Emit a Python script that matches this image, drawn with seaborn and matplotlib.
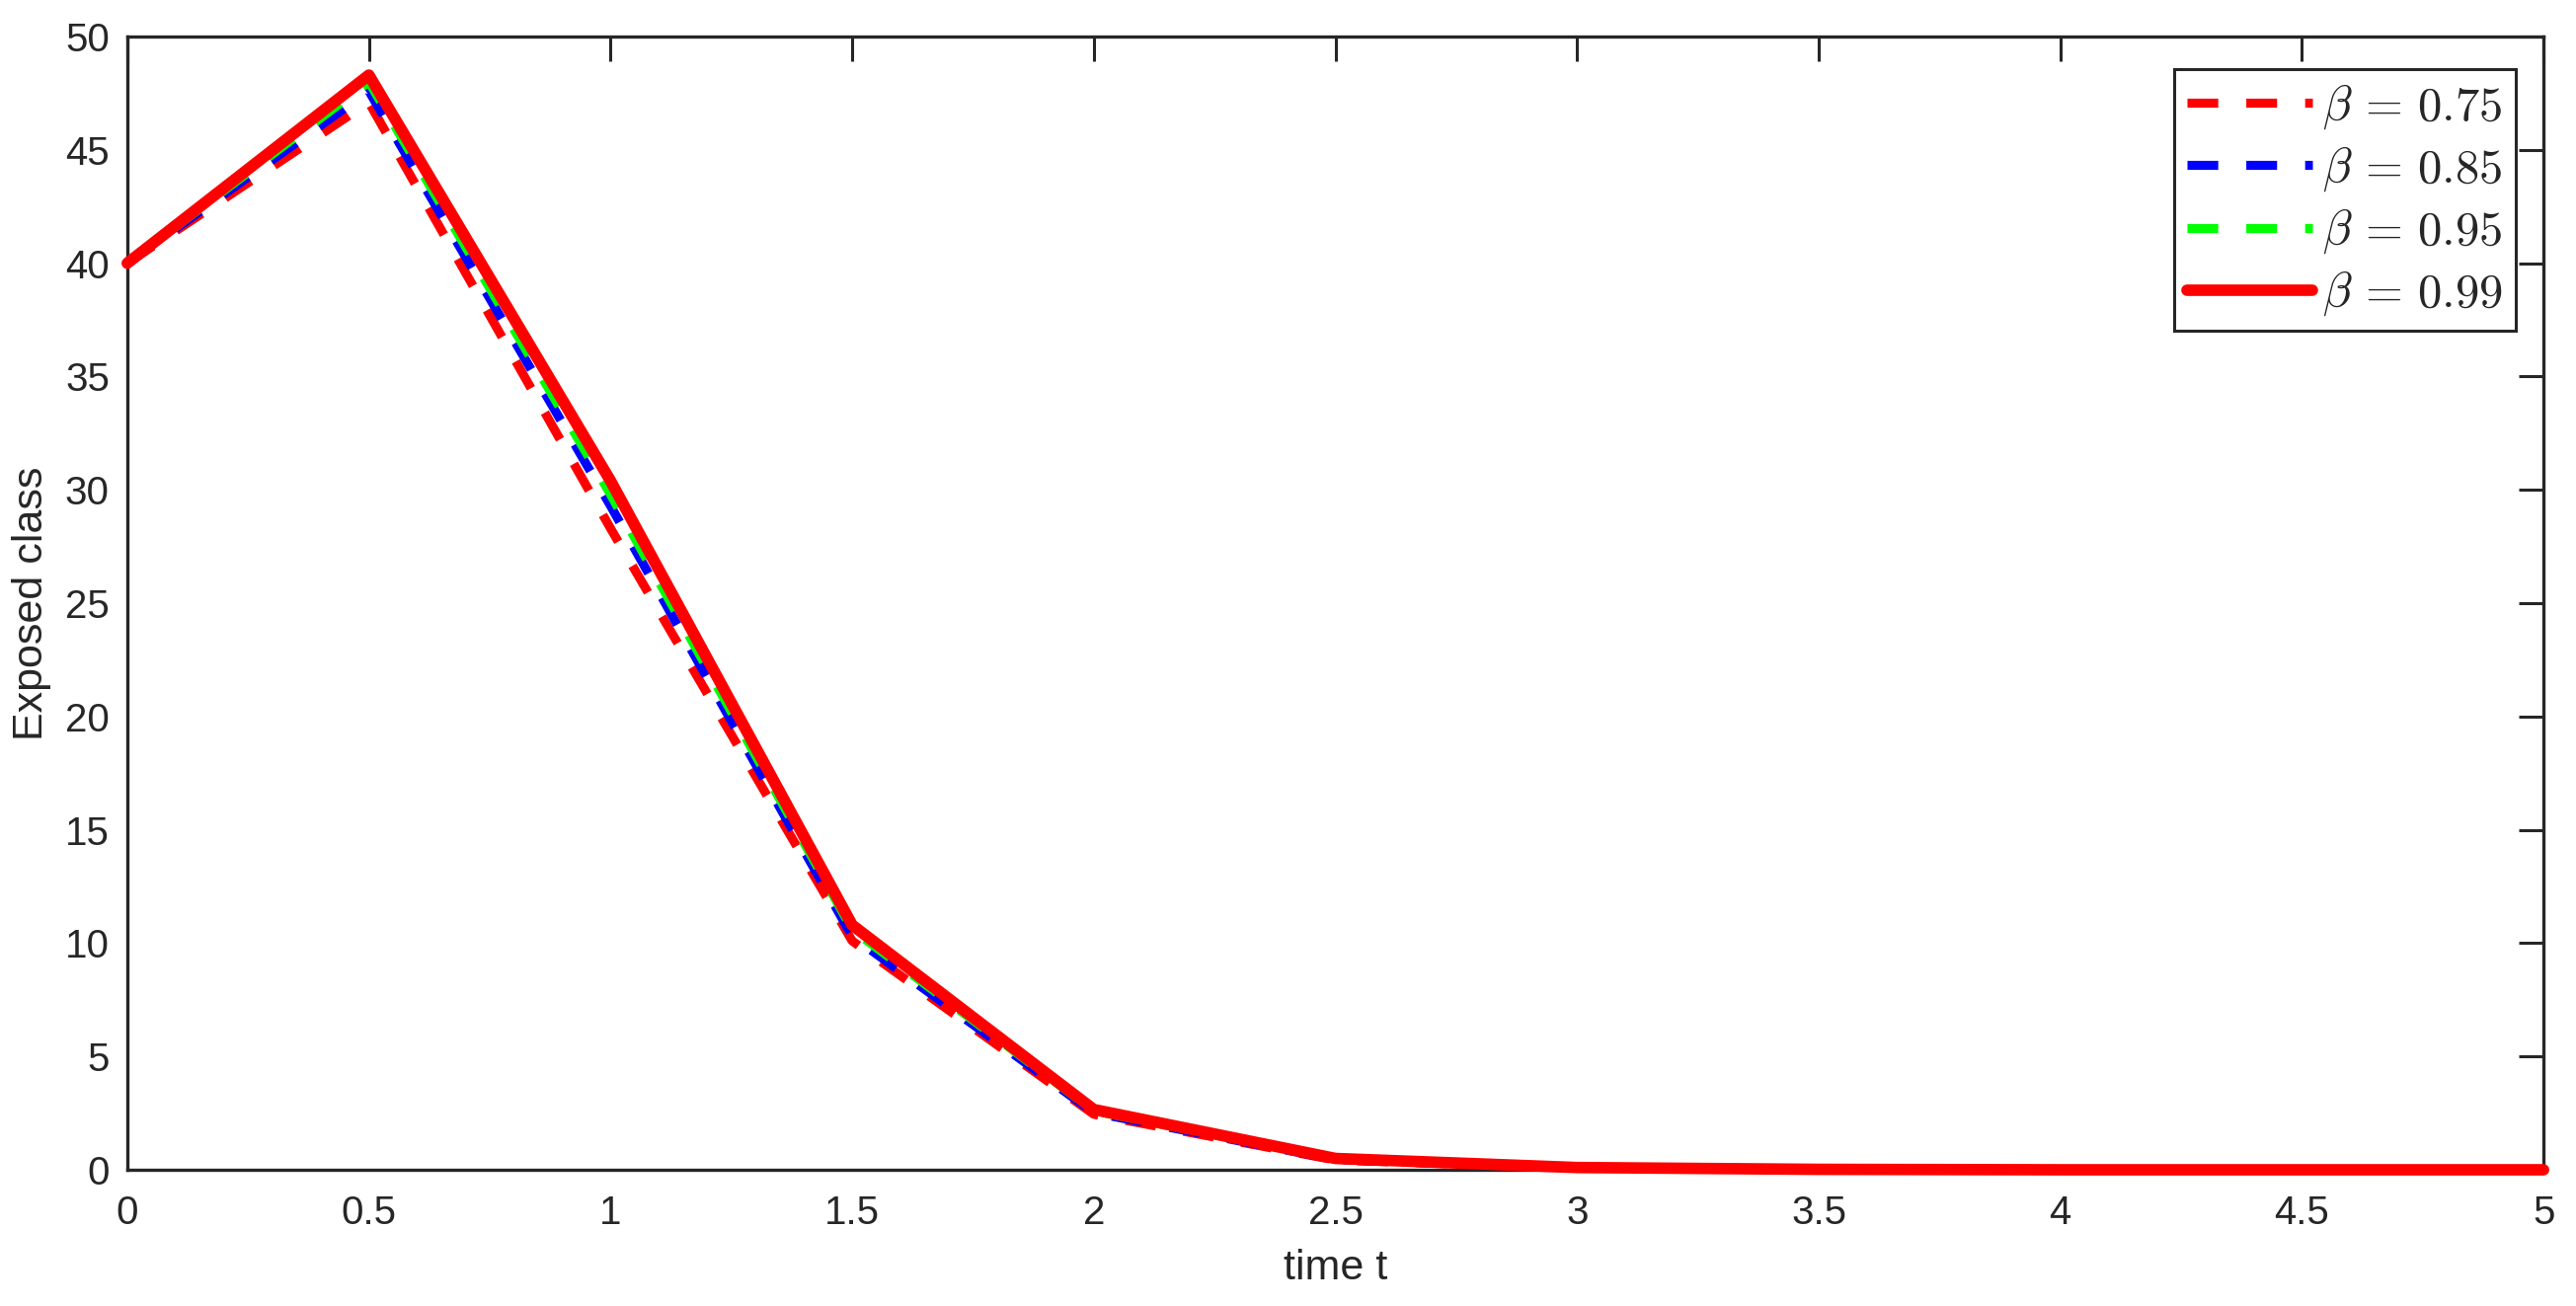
import matplotlib
matplotlib.use("Agg")
import matplotlib.pyplot as plt
import seaborn as sns

# time grid and solutions for each fractional order beta
t = [0, 0.5, 1, 1.5, 2, 2.5, 3, 3.5, 4, 4.5, 5]
e_075 = [40, 47.1, 28.3, 10.1, 2.45, 0.43, 0.08, 0.02, 0.0, 0.0, 0.0]
e_085 = [40, 47.6, 29.3, 10.3, 2.52, 0.45, 0.08, 0.02, 0.0, 0.0, 0.0]
e_095 = [40, 48.0, 29.8, 10.6, 2.60, 0.48, 0.09, 0.02, 0.0, 0.0, 0.0]
e_099 = [40, 48.3, 30.4, 10.8, 2.66, 0.50, 0.10, 0.02, 0.0, 0.0, 0.0]
labels = [r"$\beta\,=\,0.75$", r"$\beta\,=\,0.85$", r"$\beta\,=\,0.95$", r"$\beta\,=\,0.99$"]

x_ticks = [0, 0.5, 1, 1.5, 2, 2.5, 3, 3.5, 4, 4.5, 5]
x_tick_labels = ["0", "0.5", "1", "1.5", "2", "2.5", "3", "3.5", "4", "4.5", "5"]
y_ticks = [0, 5, 10, 15, 20, 25, 30, 35, 40, 45, 50]

sns.set_theme(style="white")
plt.rcParams["font.family"] = ["Liberation Sans", "DejaVu Sans"]
plt.rcParams["mathtext.fontset"] = "cm"

fig = plt.figure(figsize=(13.045, 6.615), dpi=200)
ax = fig.add_axes([0.0494, 0.1043, 0.9380, 0.8677])

dash = (0, (3.4, 3.1))
series = [
    (e_075, "#ff0000", dash, 3.3),
    (e_085, "#0000ff", dash, 3.3),
    (e_095, "#00ff00", dash, 3.3),
    (e_099, "#ff0000", "-", 4.2),
]
for (vals, col, ls, lw), lab in zip(series, labels):
    sns.lineplot(x=t, y=vals, ax=ax, color=col, linestyle=ls, linewidth=lw,
                 label=lab, clip_on=False, zorder=3)

dark = "#262626"
ax.set_xlim(0, 5)
ax.set_ylim(0, 50)
ax.set_xticks(x_ticks)
ax.set_xticklabels(x_tick_labels)
ax.set_yticks(y_ticks)
ax.tick_params(direction="in", length=9, width=1.1, colors=dark, labelsize=14.5,
               top=True, right=True, pad=9)
ax.tick_params(axis="y", pad=6.5)
for sp in ax.spines.values():
    sp.set_color(dark)
    sp.set_linewidth(1.2)
    sp.set_zorder(2)

ax.set_xlabel("time t", fontsize=15.5, color=dark, labelpad=6)
ax.set_ylabel("Exposed class", fontsize=15.5, color=dark, labelpad=5)

leg = ax.legend(loc="upper right", bbox_to_anchor=(0.9885, 0.9717),
                borderaxespad=0, fontsize=17.5, handlelength=2.6,
                handletextpad=0.2, borderpad=0.28, labelspacing=0.28,
                fancybox=False, framealpha=1)
leg.get_frame().set_edgecolor(dark)
leg.get_frame().set_linewidth(1.1)

fig.savefig("out.png", dpi=200, facecolor="white")
